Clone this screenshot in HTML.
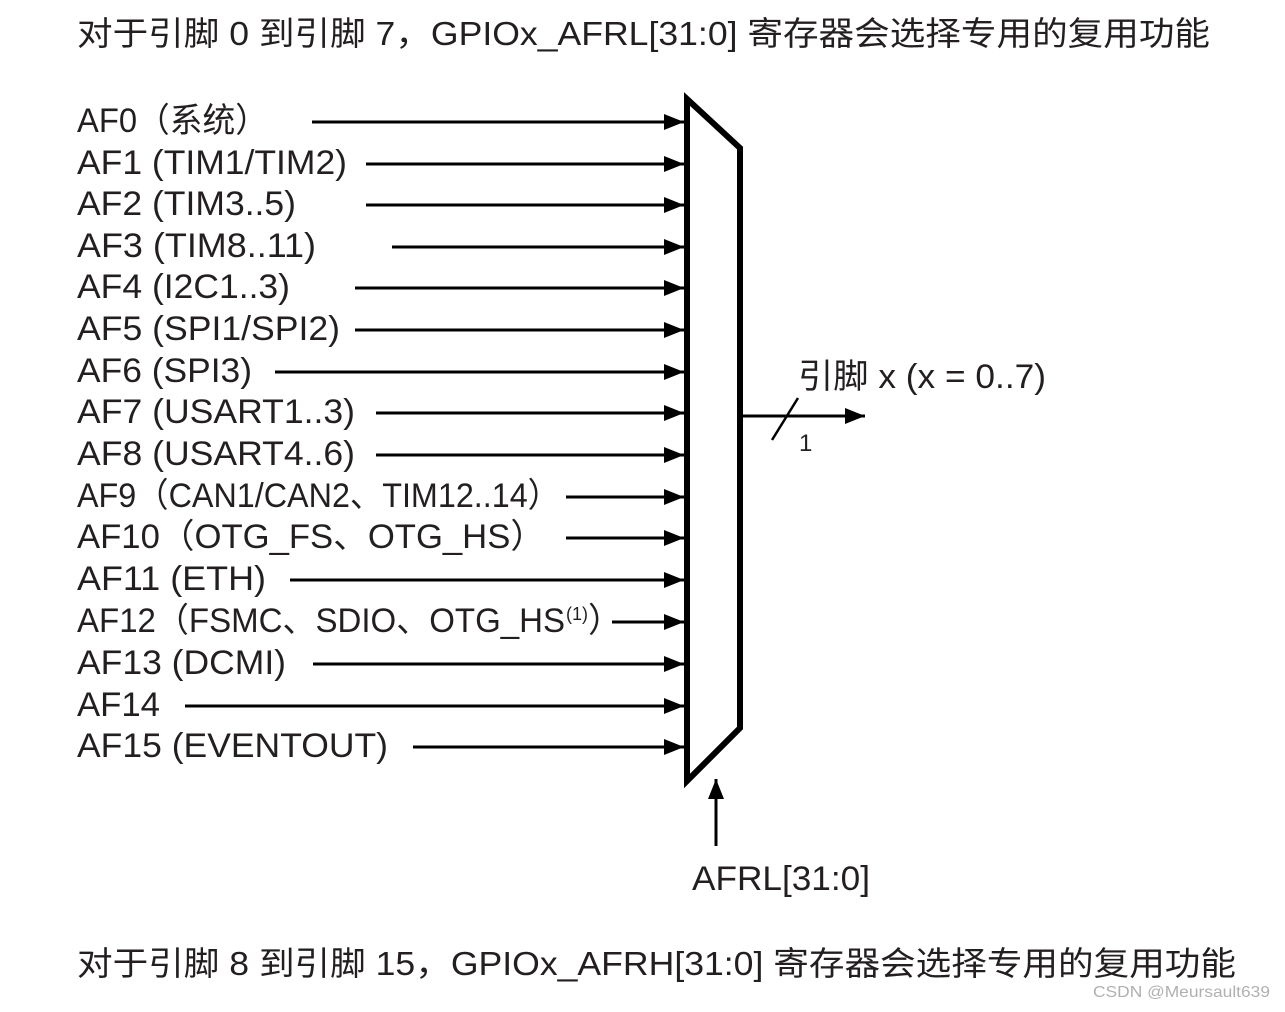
<!DOCTYPE html>
<html><head><meta charset="utf-8"><style>
html,body{margin:0;padding:0;background:#fff;}
svg text{font-family:"Liberation Sans","Noto Sans CJK SC",sans-serif;fill:#231f20;}
</style></head><body>
<svg width="1285" height="1007" viewBox="0 0 1285 1007" xmlns="http://www.w3.org/2000/svg">
<defs><marker id="a" markerWidth="20" markerHeight="16" refX="20" refY="8" orient="auto" markerUnits="userSpaceOnUse"><path d="M0,0 L20,8 L0,16 z" fill="#000"/></marker></defs>
<text x="77" y="45" font-size="33" textLength="1133" lengthAdjust="spacingAndGlyphs">对于引脚 0 到引脚 7，GPIOx_AFRL[31:0] 寄存器会选择专用的复用功能</text>
<g font-size="34">
<text x="77" y="132" textLength="191" lengthAdjust="spacingAndGlyphs">AF0（系统）</text>
<text x="77" y="174" textLength="270" lengthAdjust="spacingAndGlyphs">AF1 (TIM1/TIM2)</text>
<text x="77" y="215" textLength="219" lengthAdjust="spacingAndGlyphs">AF2 (TIM3..5)</text>
<text x="77" y="257" textLength="239" lengthAdjust="spacingAndGlyphs">AF3 (TIM8..11)</text>
<text x="77" y="298" textLength="213" lengthAdjust="spacingAndGlyphs">AF4 (I2C1..3)</text>
<text x="77" y="340" textLength="263" lengthAdjust="spacingAndGlyphs">AF5 (SPI1/SPI2)</text>
<text x="77" y="382" textLength="175" lengthAdjust="spacingAndGlyphs">AF6 (SPI3)</text>
<text x="77" y="423" textLength="278" lengthAdjust="spacingAndGlyphs">AF7 (USART1..3)</text>
<text x="77" y="465" textLength="278" lengthAdjust="spacingAndGlyphs">AF8 (USART4..6)</text>
<text x="77" y="507" textLength="483" lengthAdjust="spacingAndGlyphs">AF9（CAN1/CAN2、TIM12..14）</text>
<text x="77" y="548" textLength="468" lengthAdjust="spacingAndGlyphs">AF10（OTG_FS、OTG_HS）</text>
<text x="77" y="590" textLength="189" lengthAdjust="spacingAndGlyphs">AF11 (ETH)</text>
<text x="77" y="632" textLength="488" lengthAdjust="spacingAndGlyphs">AF12（FSMC、SDIO、OTG_HS</text>
<text x="566" y="620" font-size="18">(1)</text>
<text x="588" y="632">）</text>
<text x="77" y="674" textLength="209" lengthAdjust="spacingAndGlyphs">AF13 (DCMI)</text>
<text x="77" y="716" textLength="83" lengthAdjust="spacingAndGlyphs">AF14</text>
<text x="77" y="757" textLength="311" lengthAdjust="spacingAndGlyphs">AF15 (EVENTOUT)</text>
</g>
<g stroke="#000" stroke-width="3" marker-end="url(#a)">
<line x1="312" y1="122" x2="684" y2="122"/>
<line x1="366" y1="164" x2="684" y2="164"/>
<line x1="366" y1="205" x2="684" y2="205"/>
<line x1="392" y1="247" x2="684" y2="247"/>
<line x1="355" y1="288" x2="684" y2="288"/>
<line x1="355" y1="330" x2="684" y2="330"/>
<line x1="275" y1="372" x2="684" y2="372"/>
<line x1="376" y1="413" x2="684" y2="413"/>
<line x1="376" y1="455" x2="684" y2="455"/>
<line x1="566" y1="497" x2="684" y2="497"/>
<line x1="566" y1="538" x2="684" y2="538"/>
<line x1="290" y1="580" x2="684" y2="580"/>
<line x1="612" y1="622" x2="684" y2="622"/>
<line x1="313" y1="664" x2="684" y2="664"/>
<line x1="185" y1="706" x2="684" y2="706"/>
<line x1="413" y1="747" x2="684" y2="747"/>
<line x1="741" y1="416" x2="865" y2="416"/>
<line x1="716" y1="846" x2="716" y2="779"/>
</g>
<polygon points="687,99 740,148 740,728 687,781" fill="none" stroke="#000" stroke-width="6" stroke-linejoin="miter"/>
<line x1="772" y1="440" x2="798" y2="398" stroke="#000" stroke-width="2.5"/>
<text x="798" y="388" font-size="34" textLength="248" lengthAdjust="spacingAndGlyphs">引脚 x (x = 0..7)</text>
<text x="799" y="451" font-size="24">1</text>
<text x="692" y="890" font-size="34" textLength="178" lengthAdjust="spacingAndGlyphs">AFRL[31:0]</text>
<text x="77" y="975" font-size="33" textLength="1159" lengthAdjust="spacingAndGlyphs">对于引脚 8 到引脚 15，GPIOx_AFRH[31:0] 寄存器会选择专用的复用功能</text>
<text x="1093" y="997" font-size="16" style="fill:#b0b0b0" textLength="177" lengthAdjust="spacingAndGlyphs">CSDN @Meursault639</text>
</svg>
</body></html>
